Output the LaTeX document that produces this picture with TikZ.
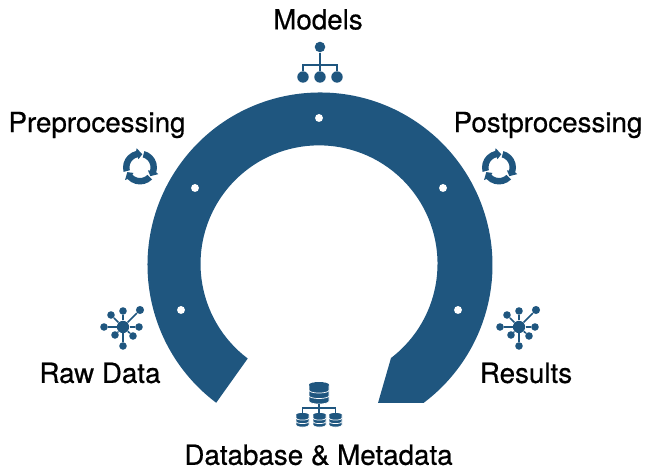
\documentclass[tikz,border=0pt]{standalone}
\usepackage{fontspec}
\setmainfont[FakeBold=.6]{TeX Gyre Heros}
\definecolor{ringblue}{HTML}{1F567F}
\newcommand{\dbstack}[4]{% x, top y, half width, disc height
  \foreach \n in {2,1,0} {
    \filldraw [ringblue, draw=white, line width=.4pt]
      (#1-#3,{#2-\n*#4}) -- (#1-#3,{#2-\n*#4-#4}) arc [x radius=#3, y radius=.5*#4, start angle=180, end angle=360]
      -- (#1+#3,{#2-\n*#4}) arc [x radius=#3, y radius=.5*#4, start angle=0, end angle=180] -- cycle;
  }
  \fill [ringblue] (#1,#2) ellipse [x radius=#3, y radius=.5*#4];
}
\tikzset{
  lbl/.style = {font=\fontsize{15.8}{17}\selectfont, text=black, inner sep=0pt},
  whitedot/.style = {circle, fill=white, inner sep=0pt, minimum size=4.5pt},
  bluedot/.style = {circle, fill=ringblue, inner sep=0pt},
  wire/.style = {draw=ringblue, line width=.9pt},
  pics/treeicon/.style = {code = {
    \node [bluedot, minimum size=6pt] (top) at (0,0) {};
    \node [bluedot, minimum size=6.5pt] (l) at (-17,-30) {};
    \node [bluedot, minimum size=6.5pt] (m) at (0,-30) {};
    \node [bluedot, minimum size=6.5pt] (r) at (17,-30) {};
    \coordinate (j) at (0,-18);
    \draw [wire] (top) -- (m);
    \draw [wire] (l) |- (j) -| (r);
  }},
  pics/hubicon/.style = {code = {
    \node [bluedot, minimum size=7pt] (c) at (0,0) {};
    \foreach \dx/\dy/\s in {-19/0/4.3, 16/0/4.3, 0/16/4.3, 0/-19/4.3, 17/17/4.6, -12/12/4.3, -8/-8/4.3, 10/-9/4.3} {
      \node [bluedot, minimum size=\s pt] (s) at (\dx,\dy) {};
      \draw [wire] (c) -- (s);
    }
  }},
  pics/cycleicon/.style = {code = {
    \foreach \a in {0,120,240} {
      \begin{scope}[rotate=\a]
        \fill [ringblue] (195:17) arc [start angle=195, end angle=103, radius=17]
          -- (100:19.5) -- (80:13.5) -- (100:8.5) -- (103:10.5)
          arc [start angle=103, end angle=195, radius=10.5] -- cycle;
      \end{scope}
    }
  }},
}
\begin{document}
\begin{tikzpicture}[x=.02cm, y=.02cm]
  \useasboundingbox (0,0) rectangle (653,475);
  % ring
  \fill [ringblue] (320,210) ++(233:172.5) arc [start angle=233, end angle=-53, radius=172.5]
    -- (378,72) -- (391,117) arc [start angle=-52.6, end angle=233, radius=118.5] -- cycle;
  \node [whitedot] (d1) at (319,357) {};
  \node [whitedot] (d2) at (195,287) {};
  \node [whitedot] (d3) at (443,287) {};
  \node [whitedot] (d4) at (181,165) {};
  \node [whitedot] (d5) at (458,165) {};
  % labels
  \node [lbl] (models) at (318,455.5) {Models};
  \node [lbl] (prep) at (97,350) {Preprocessing};
  \node [lbl] (post) at (548,350) {Postprocessing};
  \node [lbl] (raw) at (100,102) {Raw Data};
  \node [lbl] (res) at (526,102) {Results};
  \node [lbl] (db) at (318.5,20) {Database \& Metadata};
  % icons
  \pic at (320,428) {treeicon};
  \pic at (140,307.5) {cycleicon};
  \pic at (499,307.5) {cycleicon};
  \pic at (123,148) {hubicon};
  \pic at (519,148) {hubicon};
  \dbstack{319}{90.2}{10}{5.5}
  \dbstack{302.5}{60.2}{6.5}{3.5}
  \dbstack{319.5}{60.2}{6.5}{3.5}
  \dbstack{335.5}{60.2}{6.5}{3.5}
  \draw [wire] (319,71) -- (319,61) (302.5,60) |- (335.5,67) -- (335.5,60);
\end{tikzpicture}
\end{document}
